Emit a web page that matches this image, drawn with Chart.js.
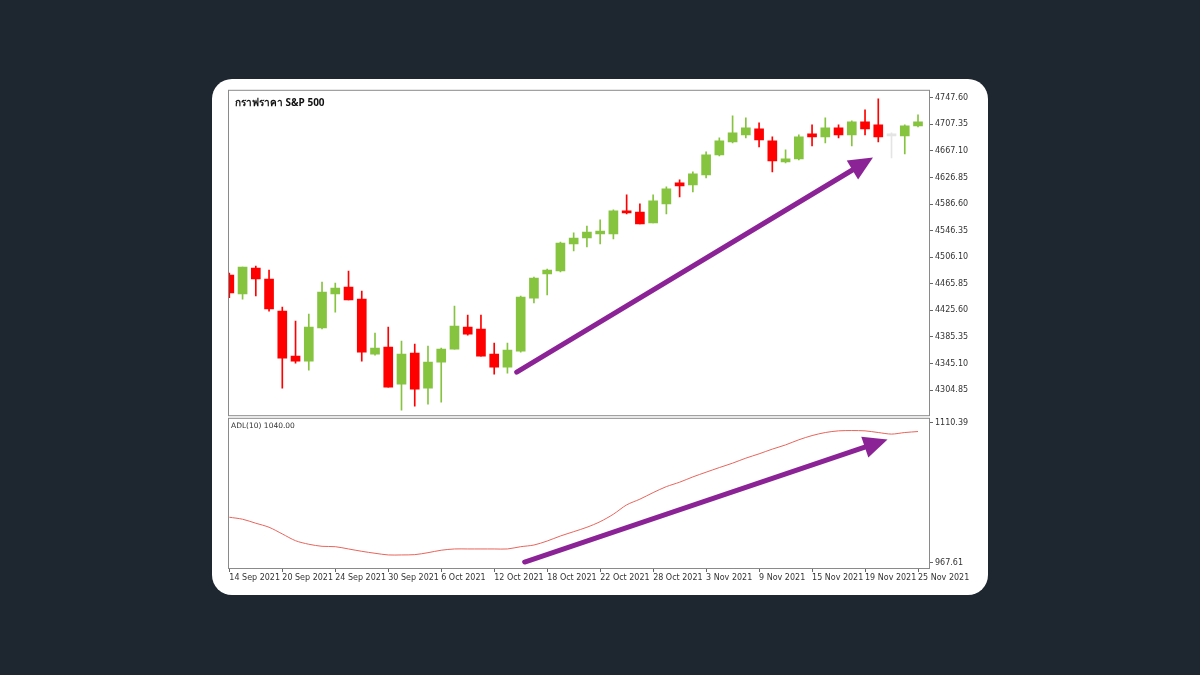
<!DOCTYPE html>
<html>
<head>
<meta charset="utf-8">
<script src="https://cdn.jsdelivr.net/npm/chart.js@4"></script>
<style>
  body { margin: 0; width: 1200px; height: 675px; background: #1e2630; position: relative; overflow: hidden; font-family: "DejaVu Sans", sans-serif; }
  #card { position: absolute; left: 212px; top: 79px; width: 776px; height: 516px; background: #fff; border-radius: 20px; }
  canvas { position: absolute; }
  #title { position: absolute; left: 235px; top: 95px; font: bold 10px "Noto Sans", sans-serif; color: #111; }
  #adlTitle { position: absolute; left: 231px; top: 421px; font: 7.5px "DejaVu Sans", sans-serif; color: #333; }
</style>
</head>
<body>
<div id="card"></div>
<canvas id="chartAdl" style="left:222px;top:411px;width:756px;height:177px" width="756" height="177"></canvas>
<canvas id="chartPrecio" style="left:222px;top:83px;width:756px;height:339px" width="756" height="339"></canvas>
<div id="title">กราฟราคา S&amp;P 500</div>
<div id="adlTitle">ADL(10) 1040.00</div>
<script>
// Datos (sesiones del 14 Sep al 25 Nov 2021)
const fechas = ["14 Sep 2021","15 Sep","16 Sep","17 Sep","20 Sep 2021","21 Sep","22 Sep","23 Sep","24 Sep 2021","27 Sep","28 Sep","29 Sep",
  "30 Sep 2021","1 Oct","4 Oct","5 Oct","6 Oct 2021","7 Oct","8 Oct","11 Oct","12 Oct 2021","13 Oct","14 Oct","15 Oct",
  "18 Oct 2021","19 Oct","20 Oct","21 Oct","22 Oct 2021","25 Oct","26 Oct","27 Oct","28 Oct 2021","29 Oct","1 Nov","2 Nov",
  "3 Nov 2021","4 Nov","5 Nov","8 Nov","9 Nov 2021","10 Nov","11 Nov","12 Nov","15 Nov 2021","16 Nov","17 Nov","18 Nov",
  "19 Nov 2021","22 Nov","23 Nov","24 Nov","25 Nov 2021"];
const apertura = [4479.2,4450.4,4489.8,4473.1,4424.6,4356.4,4348.8,4398.9,4450.4,4461.0,4442.8,4359.4,4370.0,4313.9,4360.9,4307.9,
  4347.3,4367.0,4400.4,4397.4,4359.4,4339.7,4364.0,4444.3,4480.7,4485.3,4526.2,4535.3,4541.4,4541.4,4576.3,4574.7,
  4558.0,4586.9,4618.7,4615.7,4630.8,4661.2,4680.9,4691.5,4700.6,4682.4,4650.6,4655.1,4693.0,4688.5,4702.1,4691.5,
  4711.2,4706.7,4690.0,4690.0,4705.1];
const cierre = [4451.9,4491.3,4473.1,4427.7,4353.4,4348.8,4400.4,4453.4,4459.5,4441.3,4362.5,4368.5,4309.4,4359.4,4306.4,4347.3,
  4367.0,4401.9,4389.7,4356.4,4339.7,4365.5,4445.9,4474.7,4486.8,4527.7,4535.3,4544.4,4545.9,4576.3,4573.2,4556.5,
  4591.4,4609.6,4614.2,4632.4,4661.2,4682.4,4694.5,4702.1,4683.9,4652.1,4655.1,4688.5,4688.5,4702.1,4691.5,4711.2,
  4700.6,4688.5,4690.6,4705.1,4711.2];
const maximo = [4482.0,4491.3,4492.9,4486.8,4430.7,4409.5,4420.1,4468.6,4467.1,4485.3,4455.0,4391.3,4400.4,4379.1,4374.6,4371.5,
  4368.5,4432.2,4418.6,4418.6,4376.1,4376.1,4447.4,4476.2,4488.3,4529.2,4542.9,4553.5,4562.6,4577.8,4600.5,4586.9,
  4600.5,4612.7,4623.3,4635.4,4665.7,4686.9,4720.3,4717.3,4709.7,4688.5,4668.7,4691.5,4706.7,4717.3,4706.7,4712.7,
  4729.4,4746.1,4694.5,4706.7,4721.8];
const minimo = [4445.0,4442.8,4447.4,4424.6,4307.9,4345.8,4335.2,4397.4,4423.1,4441.3,4348.8,4357.9,4309.4,4274.5,4280.6,4283.6,
  4286.6,4367.0,4388.2,4356.4,4329.1,4330.6,4362.5,4436.8,4448.9,4483.8,4515.6,4521.7,4526.2,4533.8,4571.7,4556.5,
  4558.0,4571.7,4597.5,4605.1,4626.3,4659.7,4679.4,4686.9,4673.3,4635.4,4649.0,4653.6,4674.8,4679.4,4686.9,4674.8,
  4691.5,4680.9,4656.6,4662.7,4703.6];
const adl = [1014.2,1012.2,1008.1,1004.0,997.2,990.3,986.7,984.6,984.2,981.9,979.5,977.5,975.8,975.8,976.1,978.1,
  980.6,981.9,981.9,981.9,981.9,981.9,984.2,985.9,990.0,995.1,999.5,1004.0,1009.7,1017.3,1026.8,1032.6,
  1039.3,1045.4,1049.9,1055.3,1060.1,1064.8,1069.3,1074.4,1078.8,1083.6,1087.9,1093.1,1097.4,1100.5,1102.2,1102.5,
  1102.2,1100.5,1098.9,1100.5,1101.5];
const ticksPrecio = [4304.85,4345.10,4385.35,4425.60,4465.85,4506.10,4546.35,4586.60,4626.85,4667.10,4707.35,4747.60];
const ticksAdl = [967.61,1110.39];
const velaFantasma = 50; // vela casi invisible

const VERDE = "#86c440", ROJO = "#ff0000", GRIS = "#e4e4e4", MORADO = "#8b2396";
const colores = apertura.map((o, i) => i === velaFantasma ? GRIS : (cierre[i] >= o ? VERDE : ROJO));
const X_MIN = -0.1, X_MAX = 52.83;

// borde del panel + flechas en coordenadas de datos
const panelPlugin = {
  id: "panel",
  afterDatasetsDraw(chart, args, opts) {
    const { ctx, chartArea: a, scales } = chart;
    ctx.save();
    ctx.strokeStyle = "#8a8a8a";
    ctx.lineWidth = 1;
    ctx.strokeRect(a.left + 0.5, a.top + 0.5, a.right - a.left, a.bottom - a.top);
    (opts.flechas || []).forEach(f => {
      const x1 = scales.x.getPixelForValue(f.x1), y1 = scales.y.getPixelForValue(f.y1);
      const x2 = scales.x.getPixelForValue(f.x2), y2 = scales.y.getPixelForValue(f.y2);
      const ang = Math.atan2(y2 - y1, x2 - x1), cab = 24;
      const bx = x2 - cab * Math.cos(ang), by = y2 - cab * Math.sin(ang);
      ctx.strokeStyle = MORADO; ctx.fillStyle = MORADO;
      ctx.lineWidth = 5; ctx.lineCap = "round";
      ctx.beginPath(); ctx.moveTo(x1, y1); ctx.lineTo(bx, by); ctx.stroke();
      ctx.beginPath();
      ctx.moveTo(x2, y2);
      ctx.lineTo(bx + 11 * Math.sin(ang), by - 11 * Math.cos(ang));
      ctx.lineTo(bx - 11 * Math.sin(ang), by + 11 * Math.cos(ang));
      ctx.closePath(); ctx.fill();
    });
    ctx.restore();
  }
};

const ejeY = (min, max, ticks) => ({
  position: "right", min, max,
  afterBuildTicks: s => { s.ticks = ticks.map(v => ({ value: v })); },
  afterFit: s => { s.width = 49; },
  grid: { drawOnChartArea: false, tickLength: 4, color: "#666" },
  border: { display: false },
  ticks: { padding: 2, color: "#333", font: { family: "DejaVu Sans", size: 8 }, callback: v => v.toFixed(2) }
});

Chart.defaults.animation = false;

new Chart(document.getElementById("chartPrecio"), {
  type: "bar",
  data: {
    datasets: [
      { data: fechas.map((_, i) => ({ x: i, y: [minimo[i], maximo[i]] })), backgroundColor: colores,
        barThickness: 1, grouped: false, order: 2 },
      { data: fechas.map((_, i) => ({ x: i, y: [apertura[i], cierre[i]] })), backgroundColor: colores,
        barThickness: 9, minBarLength: 2, grouped: false, order: 1 }
    ]
  },
  options: {
    responsive: false,
    layout: { padding: { left: 6, top: 2, bottom: 3, right: 0 } },
    plugins: { legend: { display: false }, tooltip: { enabled: false },
      panel: { flechas: [{ x1: 21.7, y1: 4332, x2: 48.6, y2: 4657 }] } },
    scales: {
      x: { type: "linear", min: X_MIN, max: X_MAX, offset: false, display: false },
      y: ejeY(4266.9, 4759.7, ticksPrecio)
    }
  },
  plugins: [panelPlugin]
});

new Chart(document.getElementById("chartAdl"), {
  type: "line",
  data: {
    datasets: [{ data: adl.map((v, i) => ({ x: i, y: v })), borderColor: "#e8645c", borderWidth: 1,
      pointRadius: 0, tension: 0.3 }]
  },
  options: {
    responsive: false,
    layout: { padding: { left: 6, top: 2, bottom: 0, right: 0 } },
    plugins: { legend: { display: false }, tooltip: { enabled: false },
      panel: { flechas: [{ x1: 22.3, y1: 968.6, x2: 49.7, y2: 1093.5 }] } },
    scales: {
      x: {
        type: "linear", min: X_MIN, max: X_MAX,
        afterBuildTicks: s => { s.ticks = fechas.map((_, i) => ({ value: i })).filter(t => t.value % 4 === 0); },
        afterFit: s => { s.height = 20; },
        grid: { drawOnChartArea: false, tickLength: 4, color: "#666" },
        border: { display: false },
        ticks: { align: "start", maxRotation: 0, autoSkip: false, padding: 1, color: "#333",
          font: { family: "DejaVu Sans", size: 8 }, callback: v => fechas[v] }
      },
      y: ejeY(962.5, 1115.5, ticksAdl)
    }
  },
  plugins: [panelPlugin]
});
</script>
</body>
</html>
